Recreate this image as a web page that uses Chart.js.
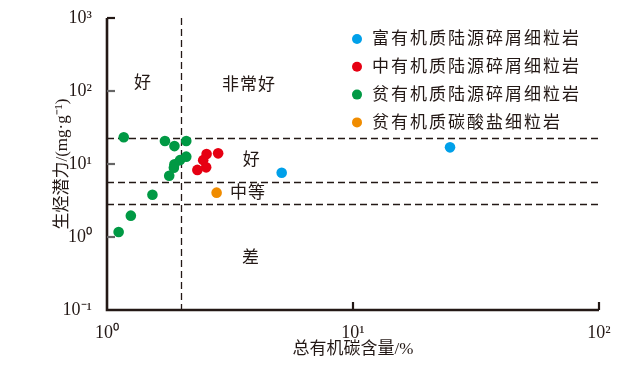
<!DOCTYPE html>
<html>
<head>
<meta charset="utf-8">
<script src="https://cdn.jsdelivr.net/npm/chart.js@4.4.0/dist/chart.umd.min.js"></script>
<style>
  html, body { margin: 0; padding: 0; background: #fff; }
  #wrap { width: 644px; height: 367px; }
</style>
</head>
<body>
<div id="wrap"><canvas id="c" width="644" height="367"></canvas></div>
<script>
// series (TOC %, S1+S2 mg/g)
const seriesNames = ['富有机质陆源碎屑细粒岩', '中有机质陆源碎屑细粒岩', '贫有机质陆源碎屑细粒岩', '贫有机质碳酸盐细粒岩'];
const seriesColors = ['#00a0e9', '#e60012', '#009944', '#f08c00'];

const richToc = [5.13, 24.8];
const richPg = [7.6, 16.9];
const midToc = [2.83, 2.54, 2.46, 2.53, 2.33];
const midPg = [14.0, 13.7, 11.3, 9.0, 8.3];
const poorToc = [1.17, 1.72, 1.88, 2.10, 2.10, 1.98, 1.88, 1.87, 1.79, 1.53, 1.25, 1.115];
const poorPg = [23.2, 20.7, 17.6, 20.7, 12.6, 11.3, 9.9, 8.9, 6.9, 3.8, 1.96, 1.17];
const carbToc = [2.79];
const carbPg = [4.05];

const xTicks = [1, 10, 100];
const xTickLabels = ['10⁰', '10¹', '10²'];
const yTicks = [0.1, 1, 10, 100, 1000];
const yTickLabels = ['10⁻¹', '10⁰', '10¹', '10²', '10³'];

// class boundaries
const tocCut = 2;
const pgCuts = [23, 5.6, 2.8];

// zone names and where they sit (data coords)
const zoneNames = ['好', '非常好', '好', '中等', '差'];
const zoneToc = [1.40, 3.78, 3.88, 3.74, 3.85];
const zonePg = [125, 117, 11.3, 3.88, 0.5];

const ink = '#231815';
const fam = "'Liberation Serif', 'Noto Sans CJK SC', serif";

function pts(xs, ys) {
  return xs.map((x, i) => ({x: x, y: ys[i]}));
}

const allX = [richToc, midToc, poorToc, carbToc];
const allY = [richPg, midPg, poorPg, carbPg];

const datasets = seriesNames.map((name, i) => ({
  label: name,
  data: pts(allX[i], allY[i]),
  backgroundColor: seriesColors[i],
  borderColor: seriesColors[i],
  borderWidth: 0,
  pointRadius: 5.3,
  pointHoverRadius: 5.3
}));

const extras = {
  id: 'extras',
  beforeDatasetsDraw(chart) {
    const {ctx, chartArea: a, scales: {x, y}} = chart;
    ctx.save();
    ctx.strokeStyle = ink;
    ctx.lineWidth = 1.3;
    ctx.setLineDash([7, 4]);
    pgCuts.forEach(v => {
      const py = Math.round(y.getPixelForValue(v)) + 0.5;
      ctx.beginPath();
      ctx.moveTo(a.left, py);
      ctx.lineTo(a.right, py);
      ctx.stroke();
    });
    const px = Math.round(x.getPixelForValue(tocCut)) + 0.5;
    ctx.beginPath();
    ctx.moveTo(px, a.top);
    ctx.lineTo(px, a.bottom);
    ctx.stroke();
    ctx.restore();
  },
  afterDraw(chart) {
    const {ctx, chartArea: a, scales: {x, y}} = chart;
    const left = a.left, top = a.top, right = a.right, bottom = a.bottom;
    ctx.save();
    ctx.setLineDash([]);
    // axes
    ctx.strokeStyle = ink;
    ctx.lineWidth = 2.6;
    ctx.beginPath();
    ctx.moveTo(left, top);
    ctx.lineTo(left, bottom);
    ctx.lineTo(right, bottom);
    ctx.stroke();
    // inward ticks
    ctx.lineWidth = 2.2;
    yTicks.forEach(v => {
      if (v === yTicks[0]) return;
      const py = y.getPixelForValue(v);
      ctx.strokeStyle = v === yTicks[yTicks.length - 1] ? ink : '#666';
      ctx.beginPath();
      ctx.moveTo(left, py);
      ctx.lineTo(left + 8, py);
      ctx.stroke();
    });
    ctx.strokeStyle = ink;
    xTicks.forEach(v => {
      if (v === xTicks[0]) return;
      const px = x.getPixelForValue(v);
      ctx.beginPath();
      ctx.moveTo(px, bottom);
      ctx.lineTo(px, bottom - 8);
      ctx.stroke();
    });
    // zone names
    ctx.fillStyle = ink;
    ctx.font = '17px ' + fam;
    ctx.textAlign = 'center';
    ctx.textBaseline = 'middle';
    ctx.letterSpacing = '1px';
    zoneNames.forEach((t, i) => {
      ctx.fillText(t, x.getPixelForValue(zoneToc[i]), y.getPixelForValue(zonePg[i]));
    });
    // legend
    ctx.textAlign = 'left';
    ctx.letterSpacing = '2px';
    seriesNames.forEach((t, i) => {
      const ly = 39 + i * 27.8;
      ctx.fillStyle = seriesColors[i];
      ctx.beginPath();
      ctx.arc(357, ly, 5, 0, Math.PI * 2);
      ctx.fill();
      ctx.fillStyle = ink;
      ctx.fillText(t, 372, ly + 1);
    });
    ctx.restore();
  }
};

new Chart(document.getElementById('c'), {
  type: 'scatter',
  data: { datasets: datasets },
  options: {
    responsive: false,
    animation: false,
    layout: { padding: { top: 18, right: 45, left: 0, bottom: 0 } },
    plugins: {
      legend: { display: false },
      tooltip: { enabled: false }
    },
    scales: {
      x: {
        type: 'logarithmic',
        min: 1,
        max: 100,
        border: { display: false },
        grid: { display: false },
        afterBuildTicks: s => { s.ticks = xTicks.map(v => ({value: v})); },
        afterFit: s => { s.height = 57; },
        ticks: {
          color: ink,
          font: { family: fam, size: 18 },
          padding: 4,
          maxRotation: 0,
          callback: (v) => xTickLabels[xTicks.indexOf(v)]
        },
        title: {
          display: true,
          text: '总有机碳含量/%',
          color: ink,
          font: { family: fam, size: 17 },
          padding: { top: 0, bottom: 7 }
        }
      },
      y: {
        type: 'logarithmic',
        min: 0.1,
        max: 1000,
        border: { display: false },
        grid: { display: false },
        afterBuildTicks: s => { s.ticks = yTicks.map(v => ({value: v})); },
        afterFit: s => { s.width = 107; },
        ticks: {
          color: ink,
          font: { family: fam, size: 18 },
          padding: 7,
          callback: (v) => yTickLabels[yTicks.indexOf(v)]
        },
        title: {
          display: true,
          text: '生烃潜力/(mg·g⁻¹)',
          color: ink,
          font: { family: fam, size: 17 },
          padding: { top: 52, bottom: 0 }
        }
      }
    }
  },
  plugins: [extras]
});
</script>
</body>
</html>
